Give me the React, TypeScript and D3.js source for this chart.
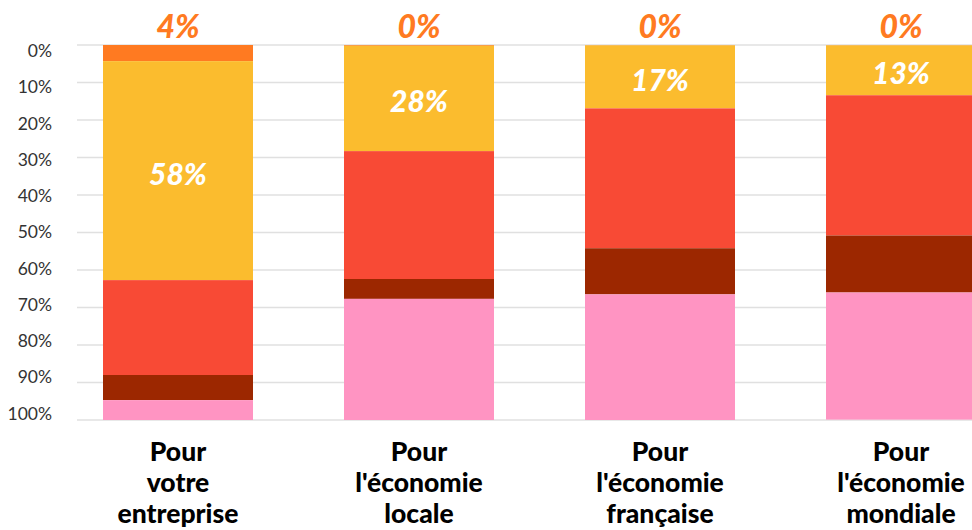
import * as d3 from "d3";
import React, { useEffect, useRef } from "react";

// categories (each label is split into lines)
const categories = ["votre entreprise", "l'économie locale", "l'économie française", "l'économie mondiale"];
const categoryLines = [
  ["Pour", "votre", "entreprise"],
  ["Pour", "l'économie", "locale"],
  ["Pour", "l'économie", "française"],
  ["Pour", "l'économie", "mondiale"],
];

// stacked series, top to bottom (percent)
const seriesKeys = ["orange", "jaune", "rouge", "brun", "rose"];
const orangeValues = [4.3, 0.2, 0.1, 0.1];
const jauneValues = [58.4, 28.1, 16.8, 13.3];
const rougeValues = [25.3, 34.1, 37.3, 37.4];
const brunValues = [6.7, 5.3, 12.3, 15.2];
const roseValues = [5.3, 32.3, 33.5, 33.9];

const topLabels = ["4%", "0%", "0%", "0%"];
const innerLabels = ["58%", "28%", "17%", "13%"];
const tickValues = [0, 10, 20, 30, 40, 50, 60, 70, 80, 90, 100];

const colors: Record<string, string> = {
  orange: "#FF7A21",
  jaune: "#FBBC2E",
  rouge: "#F84A35",
  brun: "#9C2700",
  rose: "#FF94C2",
};

export default function App() {
  const ref = useRef<SVGSVGElement | null>(null);

  useEffect(() => {
    document.body.style.margin = "0";
    if (!ref.current) return;
    const width = 972;
    const height = 530;

    const svg = d3.select(ref.current);
    svg.selectAll("*").remove();

    const data = categories.map((c, i) => ({
      cat: c,
      orange: orangeValues[i],
      jaune: jauneValues[i],
      rouge: rougeValues[i],
      brun: brunValues[i],
      rose: roseValues[i],
    }));

    const x = d3.scaleBand<string>()
      .domain(categories)
      .range([103, 976])
      .paddingInner(0.3776)
      .paddingOuter(0);

    const y = d3.scaleLinear().domain([0, 100]).range([45, 420]);
    // tick labels sit slightly off the gridlines in the original
    const yLabel = d3.scaleLinear().domain([0, 100]).range([50.5, 413]);

    const stack = d3.stack<any>().keys(seriesKeys);
    const stacked = stack(data);

    // gridlines
    svg.append("g")
      .selectAll("line")
      .data(tickValues)
      .join("line")
      .attr("x1", 77)
      .attr("x2", width)
      .attr("y1", d => y(d))
      .attr("y2", d => y(d))
      .attr("stroke", "#e0e0e0")
      .attr("stroke-width", 1.5);

    // tick labels
    svg.append("g")
      .selectAll("text")
      .data(tickValues)
      .join("text")
      .attr("x", 52)
      .attr("y", d => yLabel(d))
      .attr("text-anchor", "end")
      .attr("dominant-baseline", "central")
      .attr("font-family", "Lato, sans-serif")
      .attr("font-size", 17.5)
      .attr("fill", "#333")
      .text(d => `${d}%`);

    // bars
    svg.append("g")
      .selectAll("g")
      .data(stacked)
      .join("g")
      .attr("fill", d => colors[d.key])
      .selectAll("rect")
      .data(d => d)
      .join("rect")
      .attr("x", d => x(d.data.cat) as number)
      .attr("width", x.bandwidth())
      .attr("y", d => y(d[0]))
      .attr("height", d => Math.max(0, y(d[1]) - y(d[0])));

    // top (orange) labels
    svg.append("g")
      .selectAll("text")
      .data(categories)
      .join("text")
      .attr("x", d => (x(d) as number) + x.bandwidth() / 2)
      .attr("y", 38)
      .attr("text-anchor", "middle")
      .attr("font-family", "Lato, sans-serif")
      .attr("font-weight", 900)
      .attr("font-style", "italic")
      .attr("font-size", 32)
      .attr("fill", colors.orange)
      .text((_, i) => topLabels[i]);

    // labels inside yellow segment
    const jaune = stacked[1];
    svg.append("g")
      .selectAll("text")
      .data(jaune)
      .join("text")
      .attr("x", d => (x(d.data.cat) as number) + x.bandwidth() / 2)
      .attr("y", d => (y(d[0]) + y(d[1])) / 2 + 2)
      .attr("text-anchor", "middle")
      .attr("dominant-baseline", "central")
      .attr("font-family", "Lato, sans-serif")
      .attr("font-weight", 900)
      .attr("font-style", "italic")
      .attr("font-size", 30)
      .attr("fill", "#fff")
      .text((_, i) => innerLabels[i]);

    // category labels
    const cats = svg.append("g")
      .selectAll("text")
      .data(categories)
      .join("text")
      .attr("x", d => (x(d) as number) + x.bandwidth() / 2)
      .attr("y", 461)
      .attr("text-anchor", "middle")
      .attr("font-family", "Lato, sans-serif")
      .attr("font-weight", 900)
      .attr("font-size", 26.5)
      .attr("fill", "#000");

    cats.selectAll("tspan")
      .data((_, i) => categoryLines[i])
      .join("tspan")
      .attr("x", function () {
        return (this as any).parentNode.getAttribute("x");
      })
      .attr("dy", (_, j) => (j === 0 ? 0 : 31))
      .text(d => d);

    svg.attr("width", width).attr("height", height);
  }, []);

  return <svg ref={ref} width={972} height={530} style={{ display: "block" }}></svg>;
}
